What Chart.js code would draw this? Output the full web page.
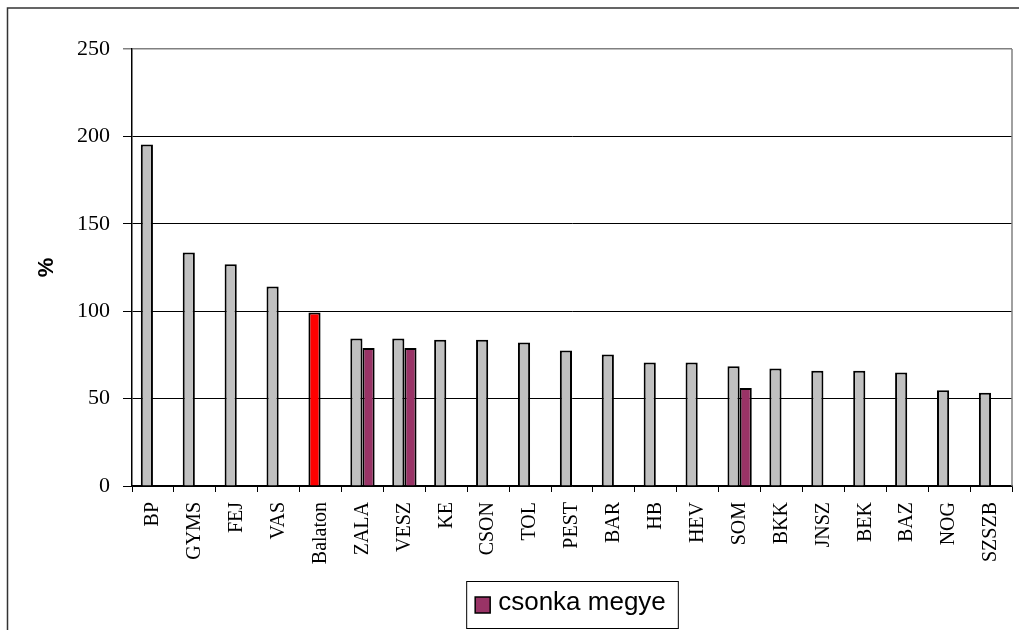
<!DOCTYPE html>
<html>
<head>
<meta charset="utf-8">
<script src="https://cdn.jsdelivr.net/npm/chart.js@4.4.1/dist/chart.umd.min.js"></script>
<style>
    html, body { margin: 0; padding: 0; background: #fff; overflow: hidden; }
    #chart { display: block; }
</style>
</head>
<body>
<canvas id="chart" width="1019" height="630"></canvas>
<script>
// --- Data ---
const categories = ['BP', 'GYMS', 'FEJ', 'VAS', 'Balaton', 'ZALA', 'VESZ', 'KE', 'CSON', 'TOL',
    'PEST', 'BAR', 'HB', 'HEV', 'SOM', 'BKK', 'JNSZ', 'BEK', 'BAZ', 'NOG', 'SZSZB'];
const megyeValues = [195.3, 133.6, 126.8, 114.2, 99.3, 84.4, 84.4, 83.6, 83.6, 82.1,
    77.5, 75.2, 70.6, 70.6, 68.5, 67.2, 66, 66, 64.9, 54.8, 53.4];
const csonkaValues = [null, null, null, null, null, 79, 79, null, null, null,
    null, null, null, null, 56, null, null, null, null, null, null];
const yTicks = [0, 50, 100, 150, 200, 250];

const highlight = 'Balaton';
const barColors = categories.map(c => c === highlight ? '#FF0000' : '#C0C0C0');

// --- Frame, plot border and legend box ---
const framePlugin = {
    id: 'frame',
    beforeDraw(chart) {
        const ctx = chart.ctx;
        ctx.save();
        ctx.fillStyle = '#fff';
        ctx.fillRect(0, 0, chart.width, chart.height);
        ctx.strokeStyle = '#333';
        ctx.lineWidth = 1.5;
        ctx.strokeRect(7.5, 8, chart.width + 20, chart.height + 40);
        ctx.restore();
    },
    afterDraw(chart) {
        const ctx = chart.ctx;
        const area = chart.chartArea;
        ctx.save();
        // right edge of the plot area
        ctx.strokeStyle = '#808080';
        ctx.lineWidth = 1.5;
        ctx.beginPath();
        ctx.moveTo(area.right, area.top);
        ctx.lineTo(area.right, area.bottom);
        ctx.stroke();

        // legend (only the "csonka megye" series)
        const ds = chart.data.datasets[1];
        ctx.font = '26px "Liberation Sans", Arial, sans-serif';
        const textW = ctx.measureText(ds.label).width;
        const boxW = 9 + 15 + 8 + textW + 12;
        const boxH = 47;
        const boxX = (area.left + area.right) / 2 - boxW / 2;
        const boxY = 581;
        ctx.fillStyle = '#fff';
        ctx.fillRect(boxX, boxY, boxW, boxH);
        ctx.strokeStyle = '#000';
        ctx.lineWidth = 1;
        ctx.strokeRect(boxX + 0.5, boxY + 0.5, boxW, boxH);
        ctx.fillStyle = ds.backgroundColor;
        ctx.fillRect(boxX + 9, boxY + 16, 15, 16);
        ctx.lineWidth = 1.5;
        ctx.strokeRect(boxX + 9, boxY + 16, 15, 16);
        ctx.fillStyle = '#000';
        ctx.textBaseline = 'alphabetic';
        ctx.textAlign = 'left';
        ctx.fillText(ds.label, boxX + 9 + 15 + 8, boxY + 29);
        ctx.restore();
    }
};

const ctx = document.getElementById('chart').getContext('2d');
new Chart(ctx, {
    type: 'bar',
    data: {
        labels: categories,
        datasets: [{
            label: 'megye',
            data: megyeValues,
            backgroundColor: barColors,
            borderColor: '#000',
            borderWidth: 2,
            categoryPercentage: 0.58,
            barPercentage: 1.0
        }, {
            label: 'csonka megye',
            data: csonkaValues,
            backgroundColor: '#993366',
            borderColor: '#000',
            borderWidth: 2,
            categoryPercentage: 0.58,
            barPercentage: 1.0
        }]
    },
    options: {
        responsive: false,
        devicePixelRatio: 1,
        animation: false,
        layout: { padding: { top: 49, right: 7, bottom: 0, left: 0 } },
        plugins: {
            legend: { display: false },
            tooltip: { enabled: false }
        },
        scales: {
            x: {
                grid: {
                    offset: true,
                    drawOnChartArea: false,
                    tickLength: 6,
                    color: '#000'
                },
                border: { color: '#000', width: 1.5 },
                ticks: {
                    autoSkip: false,
                    maxRotation: 90,
                    minRotation: 90,
                    padding: 10,
                    color: '#000',
                    font: { family: '"Liberation Serif", "Times New Roman", serif', size: 20 }
                },
                afterFit(scale) {
                    scale.height = 144;
                    scale.paddingLeft = 0;
                    scale.paddingRight = 0;
                }
            },
            y: {
                min: 0,
                max: 250,
                afterBuildTicks(scale) { scale.ticks = yTicks.map(v => ({ value: v })); },
                grid: {
                    tickLength: 9,
                    color: ctx => ctx.tick && ctx.tick.value === 250 ? '#808080' : '#000',
                    lineWidth: ctx => ctx.tick && ctx.tick.value === 250 ? 1.5 : 1
                },
                border: { color: '#000', width: 1.5 },
                ticks: {
                    padding: 13,
                    color: '#000',
                    font: { family: '"Liberation Serif", "Times New Roman", serif', size: 22 }
                },
                title: {
                    display: true,
                    text: '%',
                    color: '#000',
                    padding: { top: 34, bottom: 0 },
                    font: { family: '"Liberation Sans", Arial, sans-serif', size: 22, weight: 'bold' }
                },
                afterFit(scale) { scale.width = 132; }
            }
        }
    },
    plugins: [framePlugin]
});
</script>
</body>
</html>
